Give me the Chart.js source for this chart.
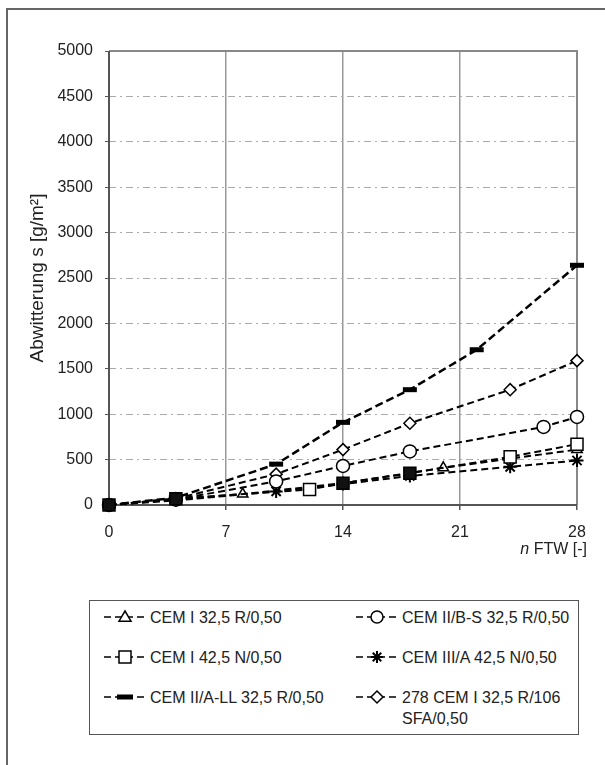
<!DOCTYPE html>
<html>
<head>
<meta charset="utf-8">
<script src="https://cdn.jsdelivr.net/npm/chart.js@4.4.0/dist/chart.umd.min.js"></script>
<style>
  html, body { margin: 0; padding: 0; background: #fff; overflow: hidden; }
  body { width: 605px; height: 765px; position: relative; font-family: "Liberation Sans", Arial, sans-serif; color: #222; }
  #frame { position: absolute; left: 6px; top: 8px; width: 700px; height: 800px; border-left: 2px solid #666; border-top: 2px solid #666; }
  #wrap { position: absolute; left: 0; top: 0; width: 605px; height: 560px; }
  #xtitle { position: absolute; right: 18px; top: 540px; font-size: 16px; white-space: nowrap; }
  #legend { position: absolute; left: 89px; top: 600px; width: 488px; height: 133px; border: 1.5px solid #555; }
  .item { position: absolute; display: flex; align-items: flex-start; font-size: 16px; line-height: 21px; }
  .item canvas { margin-top: 2px; margin-right: 4px; }
</style>
</head>
<body>
<div id="frame"></div>
<div id="wrap"><canvas id="grafico"></canvas></div>
<div id="xtitle"><i>n</i> FTW [-]</div>
<div id="legend"></div>
<script>
// Zyklen (x) und Abwitterung (y) je Mischung
const ticksX = [0, 7, 14, 21, 28];
const ticksY = [0, 500, 1000, 1500, 2000, 2500, 3000, 3500, 4000, 4500, 5000];

const nameTri = 'CEM I 32,5 R/0,50';
const triX = [0, 4, 8, 14, 20, 28];
const triY = [0, 60, 120, 240, 410, 610];

const nameCirc = 'CEM II/B-S 32,5 R/0,50';
const circX = [0, 4, 10, 14, 18, 26, 28];
const circY = [0, 60, 260, 430, 590, 860, 970];

const nameSq = 'CEM I 42,5 N/0,50';
const sqX = [0, 4, 12, 14, 18, 24, 28];
const sqY = [0, 70, 170, 240, 350, 530, 670];

const nameStar = 'CEM III/A 42,5 N/0,50';
const starX = [0, 4, 10, 14, 18, 24, 28];
const starY = [0, 50, 150, 230, 320, 420, 490];

const nameBar = 'CEM II/A-LL 32,5 R/0,50';
const barX = [0, 4, 10, 14, 18, 22, 28];
const barY = [0, 80, 450, 910, 1270, 1710, 2640];

const nameDia = '278 CEM I 32,5 R/106 SFA/0,50';
const diaX = [0, 4, 10, 14, 18, 24, 28];
const diaY = [0, 70, 340, 610, 900, 1270, 1590];

function punkte(xs, ys) {
  return xs.map((x, i) => ({ x: x, y: ys[i] }));
}

function serie(label, xs, ys, style, radius, extra) {
  return Object.assign({
    label: label,
    data: punkte(xs, ys),
    borderColor: '#000',
    borderWidth: 2,
    borderDash: [7, 4],
    pointStyle: style,
    pointRadius: radius,
    pointBackgroundColor: '#fff',
    pointBorderColor: '#000',
    pointBorderWidth: 1.5,
    tension: 0,
    clip: false
  }, extra || {});
}

// wo sich die Quadrate mit anderen Markern überdecken, wirken sie gefüllt
const sqFill = (c) => {
  const x = sqX[c.dataIndex];
  return (x === 0 || x === 4 || x === 14 || x === 18) ? '#111' : '#fff';
};

// erster Datensatz liegt oben
const datasets = [
  serie(nameSq, sqX, sqY, 'rect', 8.5, { pointBackgroundColor: sqFill }),
  serie(nameTri, triX, triY, 'triangle', 6),
  serie(nameCirc, circX, circY, 'circle', 6.5),
  serie(nameStar, starX, starY, 'star', 6.5, { pointBorderWidth: 2 }),
  serie(nameBar, barX, barY, 'line', 7, { pointBorderWidth: 5, borderWidth: 2.5, borderDash: [8, 4] }),
  serie(nameDia, diaX, diaY, 'rectRot', 6)
];

// Rahmen des Diagrammbereichs
const rahmen = {
  id: 'rahmen',
  beforeDatasetsDraw(chart) {
    const a = chart.chartArea;
    const ctx = chart.ctx;
    ctx.save();
    ctx.lineWidth = 2;
    ctx.strokeStyle = '#888';
    ctx.beginPath();
    ctx.moveTo(a.left, a.top);
    ctx.lineTo(a.right, a.top);
    ctx.lineTo(a.right, a.bottom);
    ctx.stroke();
    ctx.strokeStyle = '#555';
    ctx.beginPath();
    ctx.moveTo(a.left, a.top);
    ctx.lineTo(a.left, a.bottom);
    ctx.lineTo(a.right, a.bottom);
    ctx.stroke();
    ctx.restore();
  }
};

const fonte = { family: '"Liberation Sans", Arial, sans-serif', size: 16 };

const ctx = document.getElementById('grafico').getContext('2d');
new Chart(ctx, {
  type: 'line',
  data: { datasets: datasets },
  plugins: [rahmen],
  options: {
    responsive: true,
    maintainAspectRatio: false,
    animation: false,
    layout: { padding: { left: 18, top: 51, right: 28, bottom: 20 } },
    plugins: { legend: { display: false }, tooltip: { enabled: false } },
    scales: {
      x: {
        type: 'linear',
        min: 0,
        max: 28,
        afterBuildTicks: (s) => { s.ticks = ticksX.map(v => ({ value: v })); },
        afterFit: (s) => { s.height = 35; },
        ticks: { color: '#222', font: fonte, padding: 13, maxRotation: 0, callback: (v) => String(v) },
        grid: {
          color: (c) => (c.tick && (c.tick.value === 0 || c.tick.value === 28)) ? 'rgba(0,0,0,0)' : '#999',
          lineWidth: 1.5,
          tickLength: 5,
          tickColor: '#555'
        },
        border: { display: false }
      },
      y: {
        min: 0,
        max: 5000,
        afterBuildTicks: (s) => { s.ticks = ticksY.map(v => ({ value: v })); },
        afterFit: (s) => { s.width = 91; },
        ticks: { color: '#222', font: fonte, padding: 12, callback: (v) => String(v) },
        title: {
          display: true,
          text: 'Abwitterung s [g/m²]',
          color: '#222',
          font: { family: fonte.family, size: 19 },
          padding: { top: 8, bottom: 0 }
        },
        grid: {
          color: (c) => (c.tick && (c.tick.value === 0 || c.tick.value === 5000)) ? 'rgba(0,0,0,0)' : '#aaa',
          lineWidth: 1,
          tickLength: 4,
          tickColor: '#555',
          tickBorderDash: []
        },
        border: { display: false, dash: [7, 4, 2, 4] }
      }
    }
  }
});

// Legende als HTML
function zeichneSymbol(c, style) {
  const g = c.getContext('2d');
  const w = c.width, h = c.height, cx = w / 2, cy = h / 2;
  g.strokeStyle = '#000';
  g.lineWidth = 1.5;
  g.setLineDash([7, 4]);
  g.beginPath();
  g.moveTo(0, cy); g.lineTo(w, cy);
  g.stroke();
  g.setLineDash([]);
  g.fillStyle = '#fff';
  const r = 6;
  g.beginPath();
  if (style === 'triangle') {
    g.moveTo(cx, cy - r); g.lineTo(cx + r, cy + r * 0.7); g.lineTo(cx - r, cy + r * 0.7); g.closePath();
    g.fill(); g.stroke();
  } else if (style === 'circle') {
    g.arc(cx, cy, r, 0, Math.PI * 2); g.fill(); g.stroke();
  } else if (style === 'rect') {
    g.rect(cx - r, cy - r, 2 * r, 2 * r); g.fill(); g.stroke();
  } else if (style === 'rectRot') {
    g.moveTo(cx, cy - r); g.lineTo(cx + r, cy); g.lineTo(cx, cy + r); g.lineTo(cx - r, cy); g.closePath();
    g.fill(); g.stroke();
  } else if (style === 'star') {
    g.lineWidth = 2;
    for (let k = 0; k < 4; k++) {
      const a = k * Math.PI / 4;
      g.moveTo(cx - r * Math.cos(a), cy - r * Math.sin(a));
      g.lineTo(cx + r * Math.cos(a), cy + r * Math.sin(a));
    }
    g.stroke();
  } else if (style === 'line') {
    g.fillStyle = '#000';
    g.fillRect(cx - 8, cy - 2.5, 16, 5);
  }
}

const legendaItens = [
  { name: nameTri, style: 'triangle', left: 14, top: 6 },
  { name: nameCirc, style: 'circle', left: 266, top: 6 },
  { name: nameSq, style: 'rect', left: 14, top: 46 },
  { name: nameStar, style: 'star', left: 266, top: 46 },
  { name: nameBar, style: 'line', left: 14, top: 86 },
  { name: nameDia, style: 'rectRot', left: 266, top: 86 }
];

const legenda = document.getElementById('legend');
legendaItens.forEach(it => {
  const div = document.createElement('div');
  div.className = 'item';
  div.style.left = it.left + 'px';
  div.style.top = it.top + 'px';
  const c = document.createElement('canvas');
  c.width = 42; c.height = 16;
  zeichneSymbol(c, it.style);
  const span = document.createElement('span');
  span.style.width = (it.left > 100 ? 172 : 200) + 'px';
  span.textContent = it.name;
  div.appendChild(c);
  div.appendChild(span);
  legenda.appendChild(div);
});
</script>
</body>
</html>
